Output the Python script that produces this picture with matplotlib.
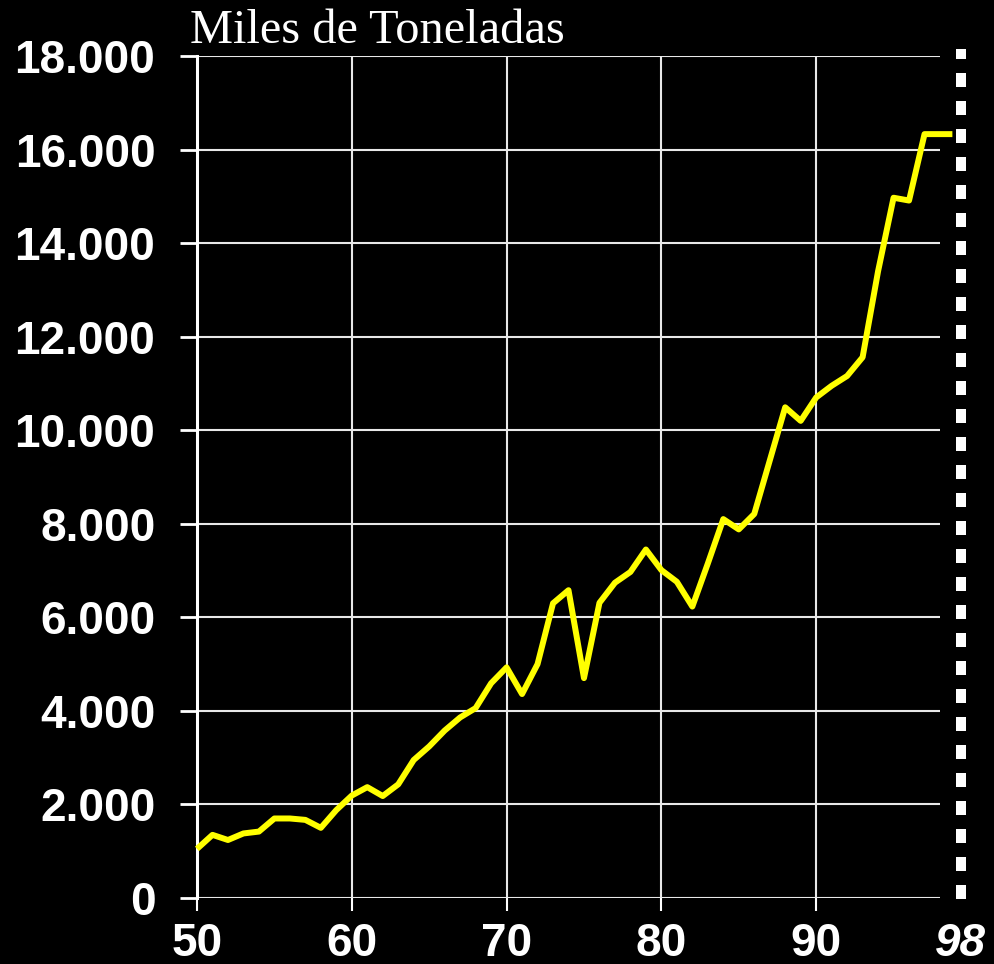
import matplotlib
matplotlib.use("Agg")
import matplotlib.pyplot as plt
from matplotlib.ticker import FuncFormatter
from matplotlib.transforms import offset_copy

years = [50, 51, 52, 53, 54, 55, 56, 57, 58, 59,
         60, 61, 62, 63, 64, 65, 66, 67, 68, 69,
         70, 71, 72, 73, 74, 75, 76, 77, 78, 79,
         80, 81, 82, 83, 84, 85, 86, 87, 88, 89,
         90, 91, 92, 93, 94, 95, 96, 97, 98.8]
values = [1050, 1350, 1240, 1380, 1420, 1700, 1700, 1670, 1500, 1880,
          2190, 2370, 2180, 2430, 2950, 3240, 3580, 3860, 4060, 4590,
          4930, 4360, 5000, 6300, 6580, 4700, 6310, 6740, 6970, 7450,
          7010, 6760, 6230, 7150, 8100, 7880, 8210, 9350, 10490, 10200,
          10700, 10950, 11160, 11560, 13400, 14970, 14910, 16330, 16330]
x_ticks = [50, 60, 70, 80, 90]
y_ticks = [0, 2000, 4000, 6000, 8000, 10000, 12000, 14000, 16000, 18000]
end_label = "98"
end_x = 99.35
title = "Miles de Toneladas"

fig = plt.figure(figsize=(9.94, 9.64), dpi=100, facecolor="black")
ax = fig.add_axes([197/994, 1-898/964, (940-197)/994, (898-56)/964])
ax.set_facecolor("black")

ax.set_xlim(50, 98)
ax.set_ylim(0, 18000)
ax.set_xticks(x_ticks)
ax.set_yticks(y_ticks)
ax.yaxis.set_major_formatter(FuncFormatter(lambda v, p: f"{int(v):,}".replace(",", ".")))

ax.grid(True, color="#e8e8e8", linewidth=1.5)
ax.set_axisbelow(True)
for s in ["top", "right", "bottom"]:
    ax.spines[s].set_visible(False)
ax.spines["left"].set_color("white")
ax.spines["left"].set_linewidth(2.2)

ax.tick_params(axis="y", colors="white", length=12, width=2, pad=18,
               labelsize=33)
ax.tick_params(axis="x", colors="white", length=9, width=1.5, pad=8,
               labelsize=33)
for lab in ax.get_xticklabels() + ax.get_yticklabels():
    lab.set_fontfamily("Liberation Sans")
    lab.set_fontweight("bold")

ax.plot(years, values, color="#ffff00", linewidth=4.3, clip_on=False,
        solid_joinstyle="round", solid_capstyle="butt", zorder=5)

ax.plot([end_x, end_x], [-30, 18150], color="white", linewidth=7.2,
        linestyle=(0, (1.4, 1.4)), dash_capstyle="butt", clip_on=False, zorder=4)

ax.text(end_x, 0, end_label,
        transform=offset_copy(ax.get_xaxis_transform(), fig=fig, y=-(9 + 8), units="points"),
        ha="center", va="top", color="white", fontsize=33,
        fontfamily="Liberation Sans", fontweight="bold", fontstyle="italic")

fig.text(190/994, 1-43/964, title, ha="left", va="baseline", color="white",
         fontsize=34.8, fontfamily="Liberation Serif")

fig.savefig("out.png", dpi=100, facecolor="black")
